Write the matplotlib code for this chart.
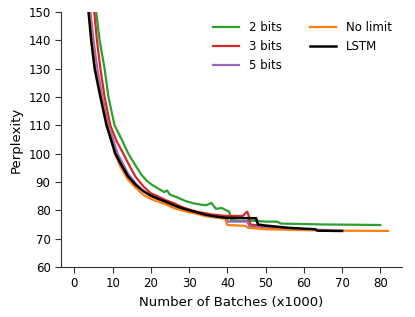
import matplotlib

matplotlib.use("Agg")
import matplotlib.pyplot as plt

# (batches x1000, perplexity)
bits2_x = [5.7, 6.6, 7.9, 8.9, 10.5, 12.3, 14.1, 16.0, 17.5, 19.0, 20.5, 22.0,
           23.5, 24.2, 25.0, 27.0, 29.0, 31.0, 33.0, 34.5, 35.8, 37.0, 38.5, 40.5, 41.0,
           43.0, 47.0, 50.0, 53.0, 54.0, 58.0, 65.0, 80.0]
bits2_y = [150, 140, 130, 120, 110, 105.2, 100, 95.8, 92.6, 90.3, 88.8, 87.6,
           86.4, 87.0, 85.5, 84.5, 83.3, 82.5, 82.0, 81.8, 82.6, 80.5, 80.8, 79.5, 76.5,
           76.2, 76.3, 76.0, 76.0, 75.3, 75.2, 75.0, 74.8]

bits3_x = [5.2, 5.9, 6.8, 7.9, 9.4, 11.0, 12.8, 14.5, 16.0, 18.0, 20.0, 22.0, 24.0, 26.0, 28.0,
           30.0, 32.0, 34.0, 36.0, 38.0, 40.0, 44.0, 45.2, 45.6, 46.0, 48.0, 52.0, 56.0, 60.0, 62.0]
bits3_y = [150, 140, 130, 120, 110, 104.5, 100, 95.5, 91.8, 88.5, 86.0, 84.8, 83.5, 82.5, 81.2,
           80.3, 79.5, 79.0, 78.5, 78.2, 78.0, 78.0, 79.5, 78.0, 75.0, 74.6, 74.0, 73.6, 73.3, 73.2]

bits5_x = [4.2, 5.0, 6.0, 7.3, 8.9, 11.3, 14.0, 16.0, 18.0, 20.0, 22.0, 24.0, 26.0, 28.0,
           30.0, 32.0, 34.0, 36.0, 38.0, 39.8, 40.2, 45.2, 45.8, 50.0, 55.0, 60.0, 67.0]
bits5_y = [150, 140, 130, 120, 110, 100, 93, 89.5, 86.8, 85.0, 84.0, 82.5, 81.3, 80.5,
           79.5, 79.0, 78.3, 77.8, 77.5, 77.3, 76.0, 76.0, 74.2, 73.7, 73.5, 73.2, 73.0]

nolimit_x = [3.9, 4.6, 5.5, 7.0, 8.6, 10.6, 12.0, 14.0, 16.0, 18.0, 20.0, 22.0, 24.0, 26.0,
             28.0, 30.0, 32.0, 34.0, 36.0, 38.0, 39.4, 40.0, 44.6, 45.5, 50.0, 60.0, 70.0, 82.0]
nolimit_y = [150, 140, 130, 120, 110, 100, 95.5, 90.8, 88.0, 85.5, 84.0, 83.0, 82.0, 80.8,
             80.0, 79.3, 78.8, 78.0, 77.6, 77.3, 77.0, 74.8, 74.5, 73.8, 73.3, 73.0, 72.8, 72.7]

lstm_x = [3.7, 4.4, 5.3, 6.8, 8.4, 10.7, 12.0, 14.0, 16.0, 18.0, 20.0, 22.0, 24.0, 26.0,
          28.0, 30.0, 32.0, 34.0, 36.0, 38.0, 40.0, 47.5, 48.0, 50.0, 53.0, 56.0, 60.0, 63.0,
          63.5, 70.0]
lstm_y = [150, 140, 130, 120, 110, 100, 96.7, 92.0, 89.0, 86.8, 85.2, 84.0, 83.0, 81.8,
          80.8, 80.0, 79.3, 78.5, 78.0, 77.6, 77.3, 77.2, 75.0, 74.6, 74.2, 73.8, 73.5, 73.3,
          72.8, 72.7]

series = [
    ("2 bits", bits2_x, bits2_y, "#2ca02c", 1.6),
    ("3 bits", bits3_x, bits3_y, "#d62728", 1.6),
    ("5 bits", bits5_x, bits5_y, "#9467bd", 1.6),
    ("No limit", nolimit_x, nolimit_y, "#ff7f0e", 1.6),
    ("LSTM", lstm_x, lstm_y, "black", 1.8),
]

figure = plt.figure(figsize=(4.15, 3.17), dpi=100)
axis = figure.add_axes([0.147, 0.158, 0.822, 0.804])
for label, xs, ys, color, width in series:
    axis.plot(xs, ys, color=color, linewidth=width, label=label)

axis.set_xlim(-3.5, 85.7)
axis.set_ylim(60, 150)
axis.set_xticks(range(0, 81, 10))
axis.set_yticks(range(60, 151, 10))
axis.set_xlabel("Number of Batches (x1000)", fontsize=9.5)
axis.set_ylabel("Perplexity", fontsize=9.5)
axis.tick_params(labelsize=8.5, direction="out", length=4, color="#333333")
for side in ("top", "right"):
    axis.spines[side].set_visible(False)
for side in ("left", "bottom"):
    axis.spines[side].set_color("#333333")
axis.legend(ncol=2, frameon=False, fontsize=8.5, loc="upper right",
            bbox_to_anchor=(1.0, 1.005), handlelength=2.2, columnspacing=2.4)

figure.savefig("out.png", dpi=100)
